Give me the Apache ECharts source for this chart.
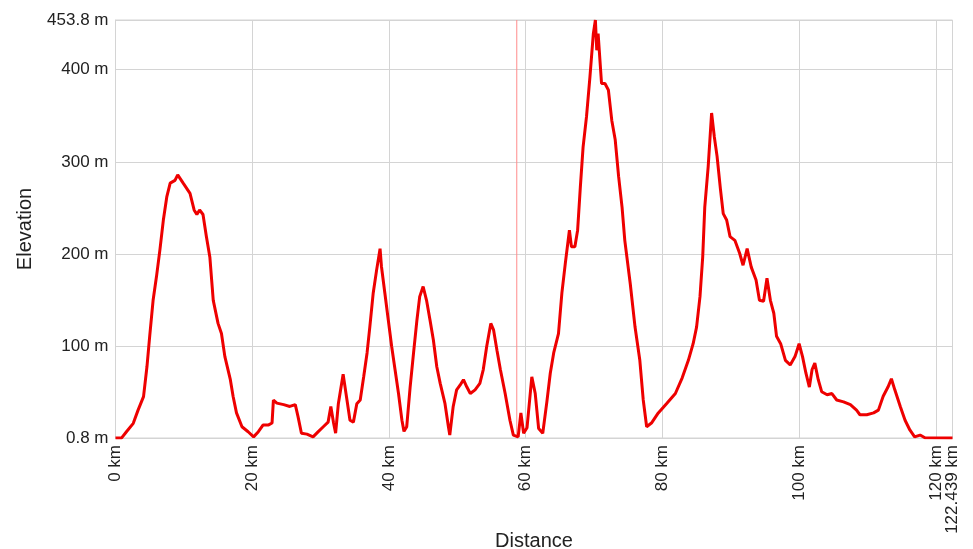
<!DOCTYPE html>
<html>
<head>
<meta charset="utf-8">
<script src="https://cdn.jsdelivr.net/npm/echarts@6/dist/echarts.min.js"></script>
<style>html,body{margin:0;padding:0;background:#fff}#c{width:973px;height:549px}</style>
</head>
<body>
<div id="c"></div>
<script>
// Distance (km) along the route
const distanceKm = [
  0, 0.9, 1.6, 2.6, 3.3, 4.1, 4.6, 5.0, 5.5, 6.0, 6.5, 7.0, 7.5, 8.0, 8.7, 9.1, 9.9, 10.9, 11.5, 11.9, 12.3, 12.8,
  13.3, 13.8, 14.3, 15.0, 15.5, 16.0, 16.8, 17.2, 17.7, 18.5, 19.4, 20.2, 20.9, 21.6, 22.4, 22.9, 23.1, 23.6,
  24.6, 25.5, 26.3, 26.7, 27.2, 28.0, 28.9, 29.7, 30.4, 31.1, 31.5, 31.9, 32.2, 32.6, 33.3, 33.8, 34.3, 34.8,
  35.3, 35.8, 36.3, 36.8, 37.2, 37.7, 38.2, 38.7, 38.9, 39.4, 39.9, 40.4, 40.9, 41.4, 41.9, 42.2, 42.6, 43.1,
  43.6, 44.1, 44.5, 45.0, 45.5, 46.0, 46.5, 47.0, 47.5, 48.2, 48.7, 48.9, 49.4, 49.9, 50.4, 50.9, 51.4, 51.9,
  52.6, 53.3, 53.8, 54.3, 54.9, 55.3, 55.8, 56.3, 57.0, 57.7, 58.2, 58.9, 59.3, 59.7, 60.2, 60.9, 61.4, 61.9,
  62.5, 63.1, 63.6, 64.1, 64.8, 65.3, 65.8, 66.4, 66.7, 67.2, 67.6, 68.0, 68.4, 68.9, 69.4, 69.9, 70.2, 70.4,
  70.6, 71.1, 71.6, 72.1, 72.6, 73.1, 73.6, 74.1, 74.5, 75.3, 76.0, 76.7, 77.2, 77.7, 78.4, 79.4, 80.6, 81.9,
  82.9, 83.8, 84.5, 85.0, 85.5, 85.9, 86.2, 86.7, 87.2, 87.6, 88.0, 88.5, 88.9, 89.4, 89.9, 90.6, 91.3, 91.8,
  92.4, 93.0, 93.7, 94.2, 94.8, 95.3, 95.8, 96.3, 96.7, 97.3, 98.0, 98.7, 99.4, 100.0, 100.5, 101.0, 101.5,
  101.9, 102.3, 102.8, 103.3, 104.1, 104.8, 105.5, 106.5, 107.5, 108.4, 108.9, 109.9, 110.9, 111.6, 112.3,
  113.0, 113.5, 114.0, 114.8, 115.5, 116.2, 116.9, 117.7, 118.4, 122.439
];
// Elevation (m) at each distance
const elevationM = [
  0.8, 0.9, 7.6, 16.7, 31, 45.6, 78, 111, 150, 176, 205, 237, 262, 277, 280, 286, 277, 266, 248, 243, 248, 243,
  219, 197, 150, 125, 114, 89, 64, 46, 28, 13, 7.6, 2, 7.6, 15, 15, 17, 42, 38.6,
  37, 35, 37, 24, 6, 5, 2, 8, 13, 18, 35, 17, 6, 38, 70, 45, 20, 18,
  38, 42, 67, 93, 121, 158, 183, 206, 187, 158, 129, 100, 74.5, 49, 20, 8, 13, 56,
  93, 129, 154, 165, 150, 129, 107, 78, 60, 38, 13, 4, 35, 53, 58, 64, 56, 49,
  53, 60, 75, 100, 125, 118, 96, 75, 49, 20, 4, 2, 28, 6, 12, 67, 49, 11,
  6, 40, 71, 93, 114, 158, 190, 226, 208, 208, 226, 273, 316, 349, 392, 439, 453.8, 421,
  439, 385, 385, 378, 345, 324, 284, 251, 215, 168, 121, 85, 42, 13, 17, 28, 38, 49,
  66, 85, 103, 121, 154, 197, 251, 295, 353, 327, 306, 270, 244, 237, 219, 215, 201, 188,
  206, 186, 172, 150, 149, 174, 150, 136, 111, 103, 85, 80, 89, 103, 89, 71, 56,
  75, 82, 64, 51, 47.6, 49, 42, 40, 37, 31, 26, 26, 28, 31, 46,
  56, 65, 53, 35, 20, 9.5, 2, 4, 1, 0.8
];
// Tick positions
const xTicks = [0, 20, 40, 60, 80, 100, 120];
const xEndTick = [122.439];
const yTicks = [0.8, 100, 200, 300, 400, 453.8];
// Current position marker (km)
const cursorKm = 58.7;

const points = distanceKm.map((d, i) => [d, elevationM[i]]);
const yMin = yTicks[0], yMax = yTicks[yTicks.length - 1];
const xMax = xEndTick[0];
const gridColor = '#d4d4d4';
const font = 'Liberation Sans, Arial, sans-serif';
const labelStyle = {fontFamily: font, fontSize: 17, color: '#222'};

const chart = echarts.init(document.getElementById('c'), null, {renderer: 'canvas'});
chart.setOption({
  animation: false,
  backgroundColor: '#ffffff',
  grid: {left: 115.5, right: 20.5, top: 20, bottom: 111, show: true, borderColor: gridColor, borderWidth: 1,
    containLabel: false, outerBoundsMode: 'none'},
  xAxis: [{
    type: 'value', min: 0, max: xMax,
    name: 'Distance', nameLocation: 'middle', nameGap: 93, nameMoveOverlap: false,
    nameTextStyle: {fontFamily: font, fontSize: 20, color: '#222'},
    axisLine: {show: true, lineStyle: {color: gridColor}},
    axisTick: {show: false, customValues: xTicks},
    splitLine: {show: true, lineStyle: {color: gridColor, width: 1}},
    axisLabel: Object.assign({customValues: xTicks, rotate: 90, margin: 7, hideOverlap: false,
      formatter: v => v + ' km'}, labelStyle)
  }, {
    type: 'value', min: 0, max: xMax, position: 'bottom', gridIndex: 0,
    axisLine: {show: false}, axisTick: {show: false, customValues: xEndTick},
    splitLine: {show: false},
    axisLabel: Object.assign({customValues: xEndTick, rotate: 90, margin: 7, hideOverlap: false,
      showMaxLabel: true, formatter: v => v + ' km'}, labelStyle)
  }],
  yAxis: {
    type: 'value', min: yMin, max: yMax,
    name: 'Elevation', nameLocation: 'middle', nameGap: 80, nameRotate: 90, nameMoveOverlap: false,
    nameTextStyle: {fontFamily: font, fontSize: 20, color: '#222'},
    axisLine: {show: true, lineStyle: {color: gridColor}},
    axisTick: {show: false, customValues: yTicks},
    splitLine: {show: true, lineStyle: {color: gridColor, width: 1}},
    axisLabel: Object.assign({customValues: yTicks, margin: 7, hideOverlap: false,
      showMaxLabel: true, showMinLabel: true, formatter: v => v + ' m'}, labelStyle)
  },
  series: [{
    type: 'line', data: [[cursorKm, yMin], [cursorKm, yMax]], showSymbol: false, symbol: 'none',
    silent: true, z: 1,
    lineStyle: {color: '#ff8c8c', width: 1}
  }, {
    type: 'line', data: points, showSymbol: false, symbol: 'none', z: 2,
    lineStyle: {color: '#ee0000', width: 3}
  }]
});
</script>
</body>
</html>
